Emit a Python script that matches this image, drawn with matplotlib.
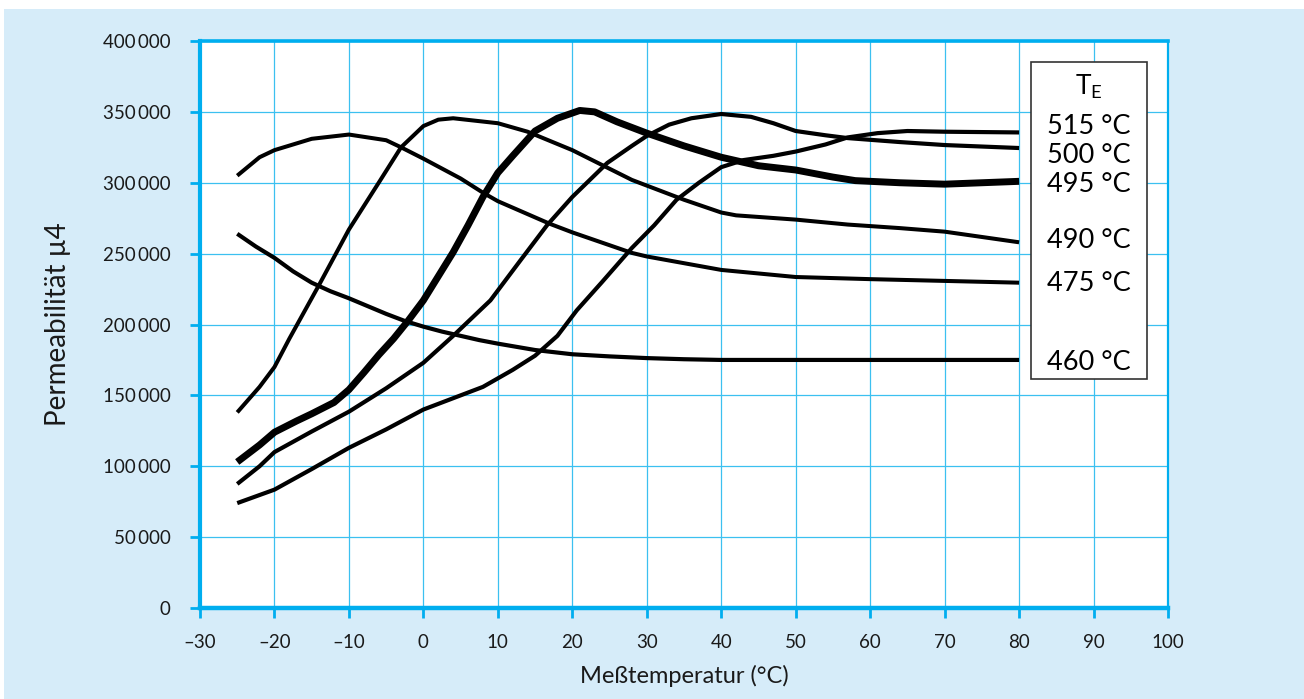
import matplotlib
matplotlib.use("Agg")
import matplotlib.pyplot as plt
from matplotlib.patches import Rectangle

plt.rcParams["font.family"] = ["Lato", "DejaVu Sans"]

BG = "#d6ecf9"
BLUE = "#00aeef"
GRID = "#3cc0f0"

# curves: (temperature, permeability)
T460_x = [-25, -22.5, -20, -17.5, -15, -12.5, -10, -7.5, -5, -2.5, 0, 2.5, 5, 7.5, 10,
          15, 20, 25, 30, 35, 40, 60, 80]
T460_y = [264000, 255000, 247000, 237500, 229500, 223500, 218500, 213000, 207500,
          202500, 198500, 195000, 192000, 189000, 186500, 182000, 179000, 177500,
          176300, 175500, 175000, 175000, 175000]

T475_x = [-25, -22, -20, -15, -10, -5, -3, 0, 5, 8, 10, 17, 20, 28, 30, 40, 50, 60, 80]
T475_y = [305000, 318000, 323000, 331000, 334000, 330000, 325000, 317000, 303000,
          293000, 287000, 271000, 265000, 250500, 248000, 238500, 233500, 232000, 229500]

T490_x = [-25, -22, -20, -18, -14, -10, -6, -3, 0, 2, 4, 10, 14, 20, 28, 35, 40, 42,
          50, 57, 64, 70, 80]
T490_y = [138000, 156000, 170000, 190000, 228000, 267000, 300000, 325000, 340000,
          344500, 345500, 342000, 336000, 323000, 302000, 288000, 279000, 277000,
          274000, 270500, 268000, 265500, 258000]

T495_x = [-25, -22, -20, -17, -15, -12, -10, -8, -6, -4, -2, 0, 2, 4, 6, 8, 10, 12,
          15, 18, 21, 23, 26, 30, 35, 40, 45, 50, 55, 58, 64, 70, 75, 80]
T495_y = [103000, 115000, 124000, 132000, 137000, 145000, 154000, 166000, 178500,
          190000, 203000, 217000, 234000, 251000, 270000, 290000, 307000, 319000,
          336500, 345500, 351000, 350000, 343000, 335000, 326000, 318000, 312000,
          309000, 304000, 301500, 300000, 299000, 300000, 301000]

T500_x = [-25, -22, -20, -15, -10, -5, 0, 4, 9, 13, 16.6, 20, 24.7, 28, 30, 33, 36,
          40, 44, 47, 50, 54, 57, 64, 70, 80]
T500_y = [87500, 100000, 110000, 124500, 138500, 155000, 173000, 192000, 217000,
          245000, 270000, 290000, 314000, 326000, 333000, 341000, 345500, 348500,
          346500, 342000, 336500, 333500, 331500, 328700, 326600, 324500]

T515_x = [-25, -20, -15, -10, -5, 0, 4, 8, 12, 15, 18, 20.6, 24, 28, 31, 34, 37, 40,
          43, 47, 50, 54, 57, 61, 65, 70, 80]
T515_y = [74000, 83500, 98000, 113000, 126000, 140000, 148000, 156000, 168000,
          178000, 192000, 210000, 230000, 254000, 270000, 288000, 300000, 311000,
          316000, 319000, 322000, 327000, 332000, 335000, 336500, 336000, 335500]

LABELS = ["515 °C", "500 °C", "495 °C", "490 °C", "475 °C", "460 °C"]
LABEL_Y = [340000, 319000, 298500, 259000, 229000, 173500]

X_TICKS = list(range(-30, 101, 10))
Y_TICKS = list(range(0, 400001, 50000))

fig = plt.figure(figsize=(13.04, 6.99), dpi=100)
fig.patch.set_facecolor("white")
fig.patches.append(Rectangle((4 / 1304, 0), 1, 690 / 699, transform=fig.transFigure,
                             facecolor=BG, edgecolor="none", zorder=-10))

ax = fig.add_axes([200 / 1304, 91 / 699, 968 / 1304, 567 / 699])
ax.set_facecolor("white")

curves = [(T460_x, T460_y, 3.0), (T475_x, T475_y, 2.9), (T490_x, T490_y, 2.9),
          (T495_x, T495_y, 5.0), (T500_x, T500_y, 3.0), (T515_x, T515_y, 3.0)]
for xs, ys, lw in curves:
    ax.plot(xs, ys, color="black", lw=lw, solid_joinstyle="round",
            solid_capstyle="butt", zorder=3)

ax.set_xlim(-30, 100)
ax.set_ylim(0, 400000)
ax.set_xticks(X_TICKS)
ax.set_yticks(Y_TICKS)
ax.set_xticklabels([str(t).replace("-", "\u2013") for t in X_TICKS])
ax.set_yticklabels(["0" if t == 0 else f"{t // 1000}\u2009000" for t in Y_TICKS])
ax.tick_params(axis="both", colors=BLUE, length=7, width=2, labelsize=13.5,
               labelcolor="#1a1a1a")
ax.tick_params(axis="x", pad=12)
ax.tick_params(axis="y", pad=14)
ax.grid(True, color=GRID, lw=0.9, zorder=0)
ax.set_axisbelow(True)

for side, lw in [("left", 3), ("bottom", 3.2), ("top", 2.6), ("right", 1.6)]:
    ax.spines[side].set_color(BLUE)
    ax.spines[side].set_linewidth(lw)

ax.set_xlabel("Meßtemperatur (°C)", fontsize=17, color="#1a1a1a")
ax.set_ylabel("Permeabilität µ4", fontsize=20, color="#1a1a1a")
ax.xaxis.set_label_coords(0.5, -0.1)
ax.yaxis.set_label_coords(-0.133, 0.5)

# legend box
ax.add_patch(Rectangle((81.6, 161500), 15.6, 223500, facecolor="white",
                       edgecolor="#333333", lw=1.2, zorder=4))
ax.text(89.4, 368000, r"T$_{\mathregular{E}}$", fontsize=19, ha="center",
        va="center", zorder=5)
for lab, y in zip(LABELS, LABEL_Y):
    ax.text(89.4, y, lab, fontsize=19.5, ha="center", va="center", zorder=5)

fig.savefig("out.png", dpi=100, facecolor=fig.get_facecolor())
